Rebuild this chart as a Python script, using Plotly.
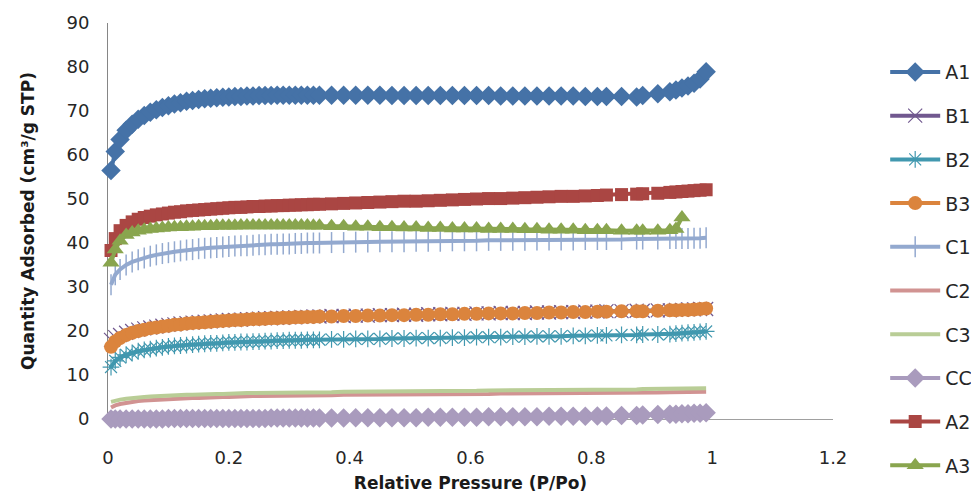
import plotly.graph_objects as go

# Relative pressure points (shared by all series)
p_rel = [0.005, 0.012, 0.02, 0.03, 0.04, 0.05, 0.06, 0.07, 0.08, 0.09,
         0.10, 0.11, 0.12, 0.13, 0.14, 0.15, 0.16, 0.17, 0.18, 0.19,
         0.20, 0.21, 0.22, 0.23, 0.24, 0.25, 0.26, 0.27, 0.28, 0.29,
         0.30, 0.31, 0.32, 0.33, 0.34, 0.35,
         0.37, 0.39, 0.41, 0.43, 0.45, 0.47, 0.49, 0.51, 0.53, 0.55,
         0.57, 0.59, 0.61, 0.63, 0.65, 0.67, 0.69, 0.71, 0.73, 0.75,
         0.77, 0.79, 0.81,
         0.825, 0.85, 0.875, 0.885, 0.91, 0.93, 0.94, 0.95, 0.96, 0.97, 0.98, 0.99]

A1 = [56.5, 60.8, 63.5, 65.6, 67.0, 68.1, 69.0, 69.7, 70.3, 70.8, 71.2, 71.6, 71.9, 72.2, 72.4, 72.6,
      72.8, 72.9, 73.0, 73.1, 73.2, 73.3, 73.3, 73.4, 73.4, 73.5, 73.5, 73.5, 73.6, 73.6, 73.6, 73.6,
      73.6, 73.6, 73.6, 73.6,
      73.6, 73.6, 73.6, 73.6, 73.6, 73.5, 73.5, 73.5, 73.5, 73.5, 73.5, 73.5, 73.5, 73.5, 73.4, 73.4,
      73.4, 73.4, 73.4, 73.4, 73.4, 73.3, 73.3,
      73.3, 73.3, 73.2, 73.5, 73.9, 74.4, 74.8, 75.2, 75.7, 76.3, 77.3, 78.9]
B1 = [18.0, 18.6, 19.1, 19.6, 20.0, 20.3, 20.6, 20.8, 21.0, 21.2, 21.4, 21.5, 21.7, 21.8, 21.9, 22.0,
      22.1, 22.2, 22.3, 22.4, 22.5, 22.5, 22.6, 22.7, 22.7, 22.8, 22.9, 22.9, 23.0, 23.0, 23.1, 23.1,
      23.2, 23.2, 23.3, 23.3,
      23.4, 23.4, 23.5, 23.5, 23.6, 23.6, 23.7, 23.7, 23.8, 23.8, 23.9, 23.9, 24.0, 24.0, 24.1, 24.1,
      24.1, 24.2, 24.2, 24.3, 24.3, 24.4, 24.4,
      24.5, 24.5, 24.6, 24.6, 24.7, 24.7, 24.8, 24.8, 24.9, 24.9, 25.0, 25.0]
B2 = [11.8, 13.2, 14.0, 14.6, 15.0, 15.4, 15.7, 15.9, 16.1, 16.3, 16.5, 16.6, 16.7, 16.8, 16.9, 17.0,
      17.1, 17.2, 17.2, 17.3, 17.4, 17.4, 17.5, 17.5, 17.6, 17.6, 17.7, 17.7, 17.8, 17.8, 17.9, 17.9,
      17.9, 18.0, 18.0, 18.0,
      18.1, 18.1, 18.2, 18.2, 18.2, 18.3, 18.3, 18.4, 18.4, 18.4, 18.5, 18.5, 18.6, 18.6, 18.6, 18.7,
      18.7, 18.8, 18.8, 18.8, 18.9, 18.9, 19.0,
      19.0, 19.1, 19.1, 19.2, 19.2, 19.3, 19.4, 19.5, 19.6, 19.7, 19.8, 19.9]
B3 = [16.4, 17.6, 18.4, 19.1, 19.6, 20.0, 20.3, 20.6, 20.8, 21.0, 21.2, 21.4, 21.5, 21.7, 21.8, 21.9,
      22.0, 22.1, 22.2, 22.3, 22.4, 22.5, 22.5, 22.6, 22.7, 22.7, 22.8, 22.9, 22.9, 23.0, 23.0, 23.1,
      23.1, 23.2, 23.2, 23.3,
      23.3, 23.4, 23.4, 23.5, 23.5, 23.6, 23.6, 23.7, 23.7, 23.8, 23.8, 23.9, 23.9, 24.0, 24.0, 24.0,
      24.1, 24.1, 24.2, 24.2, 24.3, 24.3, 24.4,
      24.4, 24.5, 24.5, 24.5, 24.6, 24.7, 24.7, 24.8, 24.8, 24.9, 25.0, 25.1]
C1 = [30.5, 32.8, 34.0, 35.0, 35.7, 36.2, 36.6, 37.0, 37.3, 37.6, 37.8, 38.0, 38.2, 38.4, 38.5, 38.7,
      38.8, 38.9, 39.0, 39.1, 39.2, 39.3, 39.4, 39.4, 39.5, 39.6, 39.6, 39.7, 39.7, 39.8, 39.8, 39.9,
      39.9, 40.0, 40.0, 40.0,
      40.1, 40.1, 40.2, 40.2, 40.3, 40.3, 40.3, 40.4, 40.4, 40.4, 40.5, 40.5, 40.5, 40.6, 40.6, 40.6,
      40.6, 40.7, 40.7, 40.7, 40.7, 40.8, 40.8,
      40.8, 40.8, 40.9, 40.9, 40.9, 41.0, 41.0, 41.0, 41.0, 41.1, 41.1, 41.2]
C2 = [2.6, 3.1, 3.4, 3.7, 3.9, 4.1, 4.2, 4.3, 4.4, 4.5, 4.6, 4.6, 4.7, 4.7, 4.8, 4.8,
      4.9, 4.9, 5.0, 5.0, 5.0, 5.1, 5.1, 5.1, 5.2, 5.2, 5.2, 5.2, 5.3, 5.3, 5.3, 5.3,
      5.4, 5.4, 5.4, 5.4,
      5.4, 5.5, 5.5, 5.5, 5.5, 5.6, 5.6, 5.6, 5.6, 5.7, 5.7, 5.7, 5.7, 5.7, 5.8, 5.8,
      5.8, 5.8, 5.8, 5.9, 5.9, 5.9, 5.9,
      5.9, 6.0, 6.0, 6.0, 6.0, 6.1, 6.1, 6.1, 6.1, 6.2, 6.2, 6.2]
C3 = [3.9, 4.2, 4.4, 4.6, 4.8, 4.9, 5.0, 5.1, 5.2, 5.3, 5.3, 5.4, 5.4, 5.5, 5.5, 5.6,
      5.6, 5.7, 5.7, 5.7, 5.8, 5.8, 5.8, 5.9, 5.9, 5.9, 5.9, 6.0, 6.0, 6.0, 6.0, 6.0,
      6.1, 6.1, 6.1, 6.1,
      6.1, 6.2, 6.2, 6.2, 6.2, 6.3, 6.3, 6.3, 6.3, 6.4, 6.4, 6.4, 6.4, 6.5, 6.5, 6.5,
      6.5, 6.5, 6.6, 6.6, 6.6, 6.6, 6.7,
      6.7, 6.7, 6.7, 6.8, 6.8, 6.8, 6.8, 6.9, 6.9, 6.9, 7.0, 7.0]
CC = [0.0, 0.0, 0.0, 0.0, 0.0, 0.0, 0.0, 0.0, 0.0, 0.0, 0.1, 0.1, 0.1, 0.1, 0.1, 0.1,
      0.1, 0.1, 0.1, 0.1, 0.1, 0.1, 0.1, 0.1, 0.1, 0.1, 0.1, 0.2, 0.2, 0.2, 0.2, 0.2,
      0.2, 0.2, 0.2, 0.2,
      0.2, 0.2, 0.3, 0.3, 0.3, 0.3, 0.3, 0.3, 0.4, 0.4, 0.4, 0.4, 0.4, 0.5, 0.5, 0.5,
      0.5, 0.5, 0.6, 0.6, 0.6, 0.6, 0.7,
      0.7, 0.8, 0.8, 0.9, 1.0, 1.1, 1.1, 1.2, 1.2, 1.3, 1.3, 1.4]
A2 = [38.3, 41.0, 42.8, 44.0, 44.8, 45.4, 45.8, 46.1, 46.4, 46.6, 46.8, 47.0, 47.1, 47.3, 47.4, 47.5,
      47.6, 47.7, 47.8, 47.9, 48.0, 48.1, 48.1, 48.2, 48.3, 48.3, 48.4, 48.4, 48.5, 48.5, 48.6, 48.6,
      48.7, 48.7, 48.8, 48.8,
      48.9, 49.0, 49.1, 49.2, 49.3, 49.4, 49.5, 49.5, 49.6, 49.7, 49.8, 49.9, 50.0, 50.1, 50.1, 50.2,
      50.3, 50.4, 50.5, 50.6, 50.6, 50.7, 50.8,
      50.9, 51.0, 51.1, 51.2, 51.3, 51.5, 51.6, 51.7, 51.8, 51.9, 52.0, 52.1]
A3 = [35.5, 38.5, 40.5, 41.8, 42.4, 42.8, 43.0, 43.2, 43.3, 43.4, 43.5, 43.6, 43.6, 43.7, 43.7, 43.8,
      43.8, 43.8, 43.9, 43.9, 43.9, 43.9, 44.0, 44.0, 44.0, 44.0, 44.0, 44.0, 44.0, 44.0, 44.0, 44.0,
      44.0, 44.0, 43.9, 43.9,
      43.8, 43.8, 43.7, 43.7, 43.6, 43.6, 43.5, 43.5, 43.4, 43.4, 43.3, 43.3, 43.3, 43.2, 43.2, 43.2,
      43.1, 43.1, 43.0, 43.0, 43.0, 42.9, 42.9,
      42.9, 42.8, 42.8, 42.8, 42.8, 42.9, 43.2, 45.8]

x_ticks = [0, 0.2, 0.4, 0.6, 0.8, 1.0, 1.2]
x_tick_labels = ["0", "0.2", "0.4", "0.6", "0.8", "1", "1.2"]
y_ticks = [0, 10, 20, 30, 40, 50, 60, 70, 80, 90]

series = [
    ("A1", A1, "#4572A7", dict(symbol="diamond", size=15)),
    ("B1", B1, "#71588F", dict(symbol="x-thin", size=14, line=dict(width=1.2, color="#71588F"))),
    ("B2", B2, "#4198AF", dict(symbol="asterisk", size=14, line=dict(width=1.2, color="#4198AF"))),
    ("B3", B3, "#DB843D", dict(symbol="circle", size=14)),
    ("C1", C1, "#93A9CF", dict(symbol="line-ns", size=15, line=dict(width=1.5, color="#93A9CF"))),
    ("C2", C2, "#D19392", None),
    ("C3", C3, "#B9CD96", None),
    ("CC", CC, "#A99BBD", dict(symbol="diamond", size=15)),
    ("A2", A2, "#AA4643", dict(symbol="square", size=13)),
    ("A3", A3, "#89A54E", dict(symbol="triangle-up", size=15)),
]

fig = go.Figure()
for name, vals, color, marker in series:
    kw = dict(mode="lines")
    if marker is not None:
        m = dict(marker)
        m["color"] = color
        kw = dict(mode="lines+markers", marker=m)
    fig.add_trace(go.Scatter(
        x=p_rel[:len(vals)], y=vals, name=name, legendgroup=name,
        line=dict(color=color, width=4), cliponaxis=False, **kw))

font_family = "DejaVu Sans"
fig.update_layout(
    width=979, height=496,
    margin=dict(l=100, r=154, t=15, b=85, autoexpand=False),
    plot_bgcolor="white", paper_bgcolor="white",
    font=dict(family=font_family, size=18, color="#262626"),
    legend=dict(xref="container", yref="container", x=0.896, y=0.909,
                xanchor="left", yanchor="top", maxheight=490,
                font=dict(size=19, family=font_family, color="#262626"),
                tracegroupgap=16, itemwidth=50, bgcolor="rgba(0,0,0,0)"),
    xaxis=dict(range=[0, 1.2], tickvals=x_ticks, ticktext=x_tick_labels,
               showline=True, linecolor="#A0A0A0", linewidth=1, automargin=False,
               showgrid=False, zeroline=False, ticks="", layer="below traces",
               ticklabelstandoff=22,
               title=dict(text="<b>Relative Pressure (P/Po)</b>", standoff=10,
                          font=dict(size=17, family=font_family, color="#1a1a1a"))),
    yaxis=dict(range=[0, 90], tickvals=y_ticks,
               showline=True, linecolor="#868686", linewidth=1, automargin=False,
               showgrid=False, zeroline=False, ticks="", layer="below traces",
               ticklabelstandoff=14,
               title=dict(text="<b>Quantity Adsorbed (cm³/g STP)</b>", standoff=27,
                          font=dict(size=17, family=font_family, color="#1a1a1a"))),
)

fig.write_html("out.html")
